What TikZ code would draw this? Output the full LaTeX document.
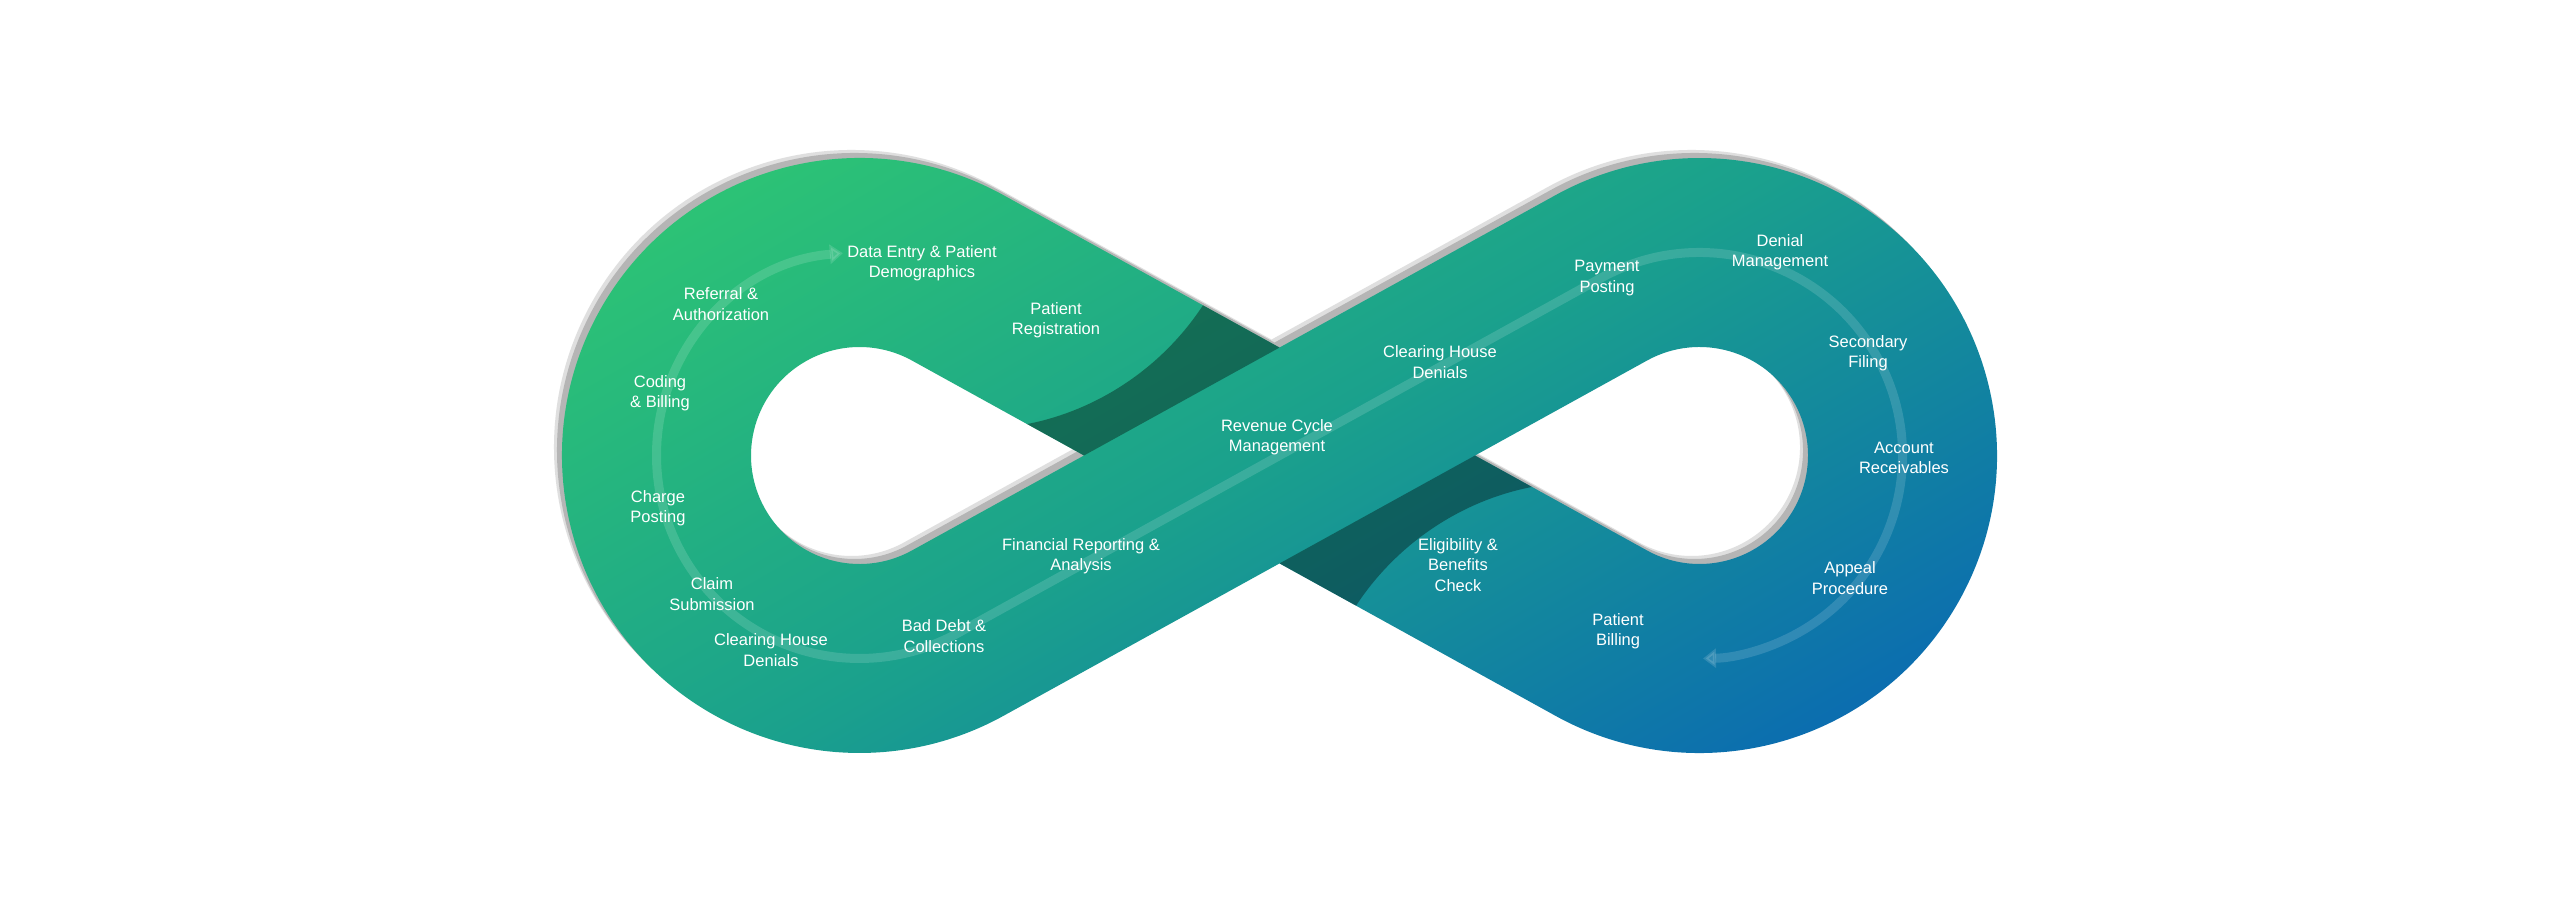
\documentclass[tikz,border=0pt]{standalone}
\usepackage{fontspec}
\setmainfont{Liberation Sans}
\usetikzlibrary{calc,arrows.meta}
\definecolor{cgreen}{HTML}{2EC673}
\definecolor{cteal}{HTML}{1AA08D}
\definecolor{cblue}{HTML}{0A68B3}
\begin{document}
\begin{tikzpicture}[x=1pt,y=1pt,
  lbl/.style={text=white, align=center, font=\fontsize{16.5}{20.5}\selectfont, inner sep=0pt},
  track/.style={white, draw opacity=0.14, fill opacity=0.14, line width=9pt},
  darkpart/.style={fill=black, fill opacity=0.36},
  shadowline/.style={line width=189pt}]
\fill[white] (0,0) rectangle (2560,911);
\useasboundingbox (0,0) rectangle (2560,911);
% geometry
\coordinate (C1) at (859.5,455.5);
\coordinate (C2) at (1699.5,455.5);
\coordinate (M) at (1279.5,455.5);
\coordinate (P1) at ($(C1)+(61.1:297.5)$);
\coordinate (P2) at ($(C1)+(61.1:108.5)$);
\coordinate (P3) at ($(C2)+(241.1:297.5)$);
\coordinate (P4) at ($(C2)+(241.1:108.5)$);
\coordinate (Q1) at ($(C1)+(-61.1:108.5)$);
\coordinate (Q2) at ($(C1)+(-61.1:297.5)$);
\coordinate (Q3) at ($(C2)+(118.9:108.5)$);
\coordinate (Q4) at ($(C2)+(118.9:297.5)$);
\coordinate (B1) at ($(C2)+(118.9:203)$);
\coordinate (T1) at ($(C1)+(94.7:203)$);
% shadow centre lines, moved up and left
\coordinate (S1) at (851.5,463.5);
\coordinate (S2) at (1691.5,463.5);
\coordinate (SA) at ($(S1)+(61.1:203)$);
\coordinate (SB) at ($(S2)+(118.9:203)$);
\coordinate (R1) at (854.5,460.5);
\coordinate (R2) at (1694.5,460.5);
\coordinate (RA) at ($(R1)+(61.1:203)$);
\coordinate (RB) at ($(R2)+(118.9:203)$);
\draw[gray!25, shadowline] (SA) arc[start angle=61.1, end angle=298.9, radius=203] -- (SB) arc[start angle=118.9, end angle=-118.9, radius=203] -- cycle;
\draw[gray!58, shadowline] (RA) arc[start angle=61.1, end angle=298.9, radius=203] -- (RB) arc[start angle=118.9, end angle=-118.9, radius=203] -- cycle;
% gradient body
\begin{scope}
 \clip (P1) arc[start angle=61.1, end angle=298.9, radius=297.5] -- (Q1) arc[start angle=298.9, end angle=61.1, radius=108.5] -- cycle
       ($(C2)+(-118.9:297.5)$) arc[start angle=-118.9, end angle=118.9, radius=297.5] -- (Q3) arc[start angle=118.9, end angle=-118.9, radius=108.5] -- cycle
       (P1) -- (P2) -- (P3) -- (P4) -- cycle
       (Q1) -- (Q2) -- (Q3) -- (Q4) -- cycle;
 \begin{scope}[transform canvas={rotate around={-60:(M)}}]
  \shade[left color=cgreen, right color=cblue, middle color=cteal] ($(M)+(-560,-900)$) rectangle ($(M)+(560,900)$);
 \end{scope}
\end{scope}
% dark under-crossing parts
\coordinate (L1) at ($(P2)!0.1788!(P3)$);
\coordinate (U1) at ($(P1)!0.3102!(P4)$);
\coordinate (U2) at ($(P4)!0.1788!(P1)$);
\coordinate (L2) at ($(P3)!0.3102!(P2)$);
\coordinate (X1) at (intersection of P1--P4 and Q1--Q4);
\coordinate (X2) at (intersection of P2--P3 and Q1--Q4);
\coordinate (Y1) at (intersection of P1--P4 and Q2--Q3);
\coordinate (Y2) at (intersection of P2--P3 and Q2--Q3);
\fill[darkpart] (L1) .. controls +(72,14) and +(-40,-61) .. (U1) -- (X1) -- (X2) -- cycle;
\fill[darkpart] (U2) .. controls +(-72,-14) and +(40,61) .. (L2) -- (Y2) -- (Y1) -- cycle;
% track
\draw[track, arrows={Triangle[width=19pt,length=13pt]-Triangle[width=19pt,length=13pt]}] (T1) arc[start angle=94.7, end angle=298.9, radius=203] -- (B1) arc[start angle=118.9, end angle=-89, radius=203];
% labels
\node[lbl] (n1) at (922,648) {Data Entry \& Patient\\Demographics};
\node[lbl] (n2) at (1056,591) {Patient\\Registration};
\node[lbl] (n3) at (721,607) {Referral \&\\Authorization};
\node[lbl] (n4) at (660,518) {Coding\\\& Billing};
\node[lbl] (n5) at (658,403) {Charge\\Posting};
\node[lbl] (n6) at (712,317) {Claim\\Submission};
\node[lbl] (n7) at (771,261) {Clearing House\\Denials};
\node[lbl] (n8) at (944,275) {Bad Debt \&\\Collections};
\node[lbl] (n9) at (1081,355) {Financial Reporting \&\\Analysis};
\node[lbl] (n10) at (1277,474) {Revenue Cycle\\Management};
\node[lbl] (n11) at (1440,549) {Clearing House\\Denials};
\node[lbl] (n12) at (1607,633) {Payment\\Posting};
\node[lbl] (n13) at (1780,659) {Denial\\Management};
\node[lbl] (n14) at (1868,558) {Secondary\\Filing};
\node[lbl] (n15) at (1904,453) {Account\\Receivables};
\node[lbl] (n16) at (1850,333) {Appeal\\Procedure};
\node[lbl] (n17) at (1618,280) {Patient\\Billing};
\node[lbl] (n18) at (1458,346) {Eligibility \&\\Benefits\\Check};
\end{tikzpicture}
\end{document}
